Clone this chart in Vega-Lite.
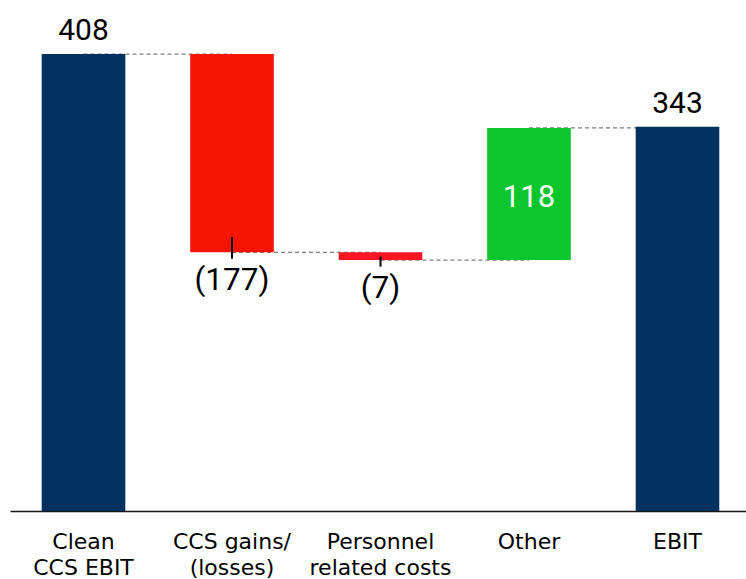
{
  "$schema": "https://vega.github.io/schema/vega-lite/v6.json",
  "autosize": "none",
  "width": 741,
  "height": 511,
  "padding": {"left": 10, "top": 0, "right": 0, "bottom": 68},
  "background": "white",
  "config": {"view": {"stroke": null}},
  "datasets": {
    "steps": [
      {"cat": "Clean|CCS EBIT", "start": 0, "end": 408, "kind": "total", "label": "408"},
      {"cat": "CCS gains/|(losses)", "start": 408, "end": 231, "kind": "neg", "label": "(177)"},
      {"cat": "Personnel|related costs", "start": 231, "end": 224, "kind": "neg", "label": "(7)"},
      {"cat": "Other", "start": 224, "end": 342, "kind": "pos", "label": "118"},
      {"cat": "EBIT", "start": 0, "end": 343, "kind": "total", "label": "343"}
    ],
    "links": [
      {"from": "Clean|CCS EBIT", "to": "CCS gains/|(losses)", "level": 408},
      {"from": "CCS gains/|(losses)", "to": "Personnel|related costs", "level": 231},
      {"from": "Personnel|related costs", "to": "Other", "level": 224},
      {"from": "Other", "to": "EBIT", "level": 342}
    ]
  },
  "layer": [
    {
      "data": {"name": "links"},
      "mark": {"type": "rule", "color": "#7f7f7f", "strokeWidth": 1.3, "strokeDash": [4, 3]},
      "encoding": {
        "x": {"field": "from", "type": "nominal", "scale": {"type": "band", "domain": ["Clean|CCS EBIT", "CCS gains/|(losses)", "Personnel|related costs", "Other", "EBIT"], "paddingInner": 0.437, "paddingOuter": 0.2135}, "axis": {"title": null, "labelExpr": "split(datum.label, '|')", "labelFont": "DejaVu Sans", "labelFontSize": 22, "labelColor": "#000", "labelLineHeight": 26, "labelPadding": 20, "labelAngle": 0, "ticks": false, "domainColor": "#1a1a1a", "domainWidth": 1.6}},
        "x2": {"field": "to"},
        "y": {"field": "level", "type": "quantitative", "scale": {"domain": [0, 456.25], "nice": false, "zero": true}, "axis": null}
      }
    },
    {
      "data": {"name": "steps"},
      "mark": {"type": "bar"},
      "encoding": {
        "x": {"field": "cat", "type": "nominal", "scale": {"type": "band", "domain": ["Clean|CCS EBIT", "CCS gains/|(losses)", "Personnel|related costs", "Other", "EBIT"], "paddingInner": 0.437, "paddingOuter": 0.2135}},
        "y": {"field": "start", "type": "quantitative"},
        "y2": {"field": "end"},
        "color": {"field": "cat", "type": "nominal", "legend": null, "scale": {"domain": ["Clean|CCS EBIT", "CCS gains/|(losses)", "Personnel|related costs", "Other", "EBIT"], "range": ["#00315F", "#F51400", "#FA1522", "#0BC62C", "#00315F"]}}
      }
    },
    {
      "data": {"name": "steps"},
      "transform": [{"filter": "datum.cat === 'CCS gains/|(losses)'"}],
      "mark": {"type": "rule", "color": "#000", "strokeWidth": 2, "yOffset": -15, "y2Offset": 6.5},
      "encoding": {
        "x": {"field": "cat", "type": "nominal"},
        "y": {"field": "end", "type": "quantitative"},
        "y2": {"field": "end"}
      }
    },
    {
      "data": {"name": "steps"},
      "transform": [{"filter": "datum.cat === 'Personnel|related costs'"}],
      "mark": {"type": "rule", "color": "#000", "strokeWidth": 2, "yOffset": -3.5, "y2Offset": 6.5},
      "encoding": {
        "x": {"field": "cat", "type": "nominal"},
        "y": {"field": "end", "type": "quantitative"},
        "y2": {"field": "end"}
      }
    },
    {
      "data": {"name": "steps"},
      "transform": [{"filter": "datum.kind === 'total'"}],
      "mark": {"type": "text", "font": "Roboto", "fontSize": 30, "color": "#000", "baseline": "alphabetic", "align": "center", "dy": -14},
      "encoding": {
        "x": {"field": "cat", "type": "nominal"},
        "y": {"field": "end", "type": "quantitative"},
        "text": {"field": "label"}
      }
    },
    {
      "data": {"name": "steps"},
      "transform": [{"filter": "datum.kind === 'neg'"}],
      "mark": {"type": "text", "font": "Roboto", "fontSize": 31.5, "color": "#000", "baseline": "alphabetic", "align": "center", "dy": 37.5},
      "encoding": {
        "x": {"field": "cat", "type": "nominal"},
        "y": {"field": "end", "type": "quantitative"},
        "text": {"field": "label"}
      }
    },
    {
      "data": {"name": "steps"},
      "transform": [{"filter": "datum.kind === 'pos'"}],
      "mark": {"type": "text", "font": "Roboto", "fontSize": 31, "color": "#fff", "baseline": "alphabetic", "align": "center", "dy": 79},
      "encoding": {
        "x": {"field": "cat", "type": "nominal"},
        "y": {"field": "end", "type": "quantitative"},
        "text": {"field": "label"}
      }
    }
  ]
}
